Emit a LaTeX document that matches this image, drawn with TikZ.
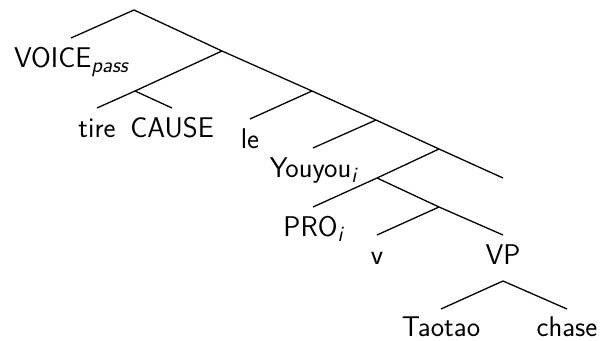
\documentclass[tikz,border=0pt]{standalone}
\newcommand\lsub[1]{\raisebox{-5pt}{\fontsize{22}{22}\selectfont\itshape #1}}
\begin{document}
\begin{tikzpicture}[x=1pt,y=-1pt,line width=1.3pt,
  lab/.style={anchor=north,inner sep=0pt,outer sep=0pt,text height=29pt,text depth=0pt,
    font=\fontsize{28.5}{34}\selectfont\sffamily}]
\useasboundingbox (0,0) rectangle (602,340);
% branching points
\coordinate (root) at (134,10);
\coordinate (n1) at (222,51);
\coordinate (b) at (135,91);
\coordinate (n2) at (312,91);
\coordinate (n3) at (376,120);
\coordinate (n4) at (439,149);
\coordinate (n5) at (377,178);
\coordinate (n6) at (439,207);
\coordinate (empty) at (503,178);
% leaves and labelled nodes
\node[lab] (voice) at (71,38) {VOICE\lsub{pass}};
\node[lab] (tire) at (97,108) {tire};
\node[lab] (cause) at (172,108) {CAUSE};
\node[lab] (le) at (250,119) {le};
\node[lab] (you) at (313,148) {Youyou\lsub{i}};
\node[lab] (pro) at (313,207) {PRO\lsub{i}};
\node[lab] (v) at (377,235) {v};
\node[lab,text depth=17pt] (vp) at (503,235) {VP};
\node[lab,text height=27pt] (tao) at (441,309) {Taotao};
\node[lab,text height=27pt] (chase) at (567,309) {chase};
% branches
\draw (voice.north) -- (root) -- (n1) -- (n2) -- (n3) -- (n4) -- (empty);
\draw (n1) -- (b);
\draw (tire.north) -- (b) -- (cause.north);
\draw (n2) -- (le.north);
\draw (n3) -- (you.north);
\draw (n4) -- (n5) -- (pro.north);
\draw (n5) -- (n6) -- (vp.north);
\draw (n6) -- (v.north);
\draw (tao.north) -- (vp.south) -- (chase.north);
\end{tikzpicture}
\end{document}
